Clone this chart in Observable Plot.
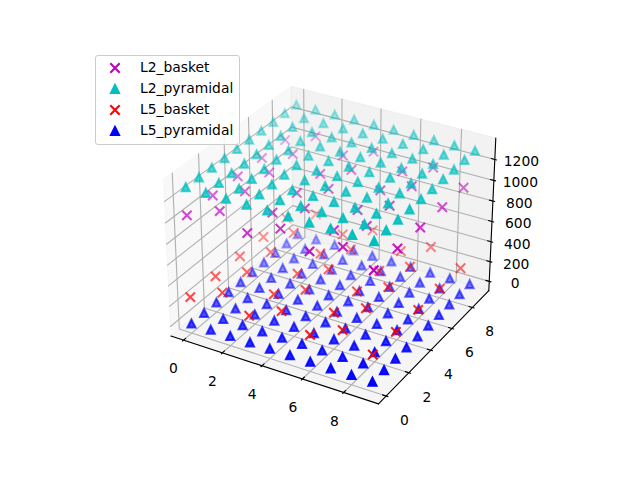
<!DOCTYPE html>
<html><head><meta charset="utf-8">
<script src="https://cdn.jsdelivr.net/npm/d3@7"></script>
<script src="https://cdn.jsdelivr.net/npm/@observablehq/plot@0.6"></script>
<style>
html,body{margin:0;padding:0;background:#fff;overflow:hidden}
#wrap{position:relative;width:640px;height:480px;font-family:"DejaVu Sans",sans-serif;overflow:hidden;}
#legend{position:absolute;left:95px;top:55px;width:143px;height:88px;border:1px solid #ccc;border-radius:3px;background:rgba(255,255,255,.8);}
#legend .row{position:absolute;left:0;height:20px;line-height:20px;font-size:13.89px;color:#000;white-space:nowrap;}
#legend svg{position:absolute;left:8px;top:0;overflow:visible;}
#legend span{position:absolute;left:44px;top:-1px;}
</style></head><body><div id="wrap"><div id="legend"></div></div>
<script>
const seriesNames = ["L2_basket","L2_pyramidal","L5_basket","L5_pyramidal"];
const seriesColors = ["#bf00bf","#00bfbf","#ff0000","#0000ff"];
const seriesMarkers = ["x","triangle","x","triangle"];
const seriesHeights = [1045.9,1307.4,261.5,0];
const xTicks = [0,2,4,6,8];
const yTicks = [0,2,4,6,8];
const zTicks = [0,200,400,600,800,1000,1200];
const pyramidalX = [0,0,0,0,0,0,0,0,0,0,1,1,1,1,1,1,1,1,1,1,2,2,2,2,2,2,2,2,2,2,3,3,3,3,3,3,3,3,3,3,4,4,4,4,4,4,4,4,4,4,5,5,5,5,5,5,5,5,5,5,6,6,6,6,6,6,6,6,6,6,7,7,7,7,7,7,7,7,7,7,8,8,8,8,8,8,8,8,8,8,9,9,9,9,9,9,9,9,9,9];
const pyramidalY = [0,1,2,3,4,5,6,7,8,9,0,1,2,3,4,5,6,7,8,9,0,1,2,3,4,5,6,7,8,9,0,1,2,3,4,5,6,7,8,9,0,1,2,3,4,5,6,7,8,9,0,1,2,3,4,5,6,7,8,9,0,1,2,3,4,5,6,7,8,9,0,1,2,3,4,5,6,7,8,9,0,1,2,3,4,5,6,7,8,9,0,1,2,3,4,5,6,7,8,9];
const basketX = [0,0,0,0,0,1,1,1,1,1,3,3,3,3,3,4,4,4,4,4,6,6,6,6,6,7,7,7,7,7,9,9,9,9,9];
const basketY = [0,2,4,6,8,1,3,5,7,9,0,2,4,6,8,1,3,5,7,9,0,2,4,6,8,1,3,5,7,9,0,2,4,6,8];

// View geometry of a default 3D axes: elevation 30, azimuth -60, distance 10.
const limX = [-0.656,9.656], limY = [-0.656,9.656], limZ = [-95.3,1402.7];
const dist = 10, elev = 30*Math.PI/180, azim = -60*Math.PI/180;
const k = 1.8294640721620434*25/24/Math.hypot(4,4,3);
const box = [4*k,4*k,3*k];
const R = box.map(b=>b/2);
const dir = [Math.cos(elev)*Math.cos(azim),Math.cos(elev)*Math.sin(azim),Math.sin(elev)];
const E = R.map((r,i)=>r+dist*dir[i]);
const cross=(a,b)=>[a[1]*b[2]-a[2]*b[1],a[2]*b[0]-a[0]*b[2],a[0]*b[1]-a[1]*b[0]];
const dot3=(a,b)=>a[0]*b[0]+a[1]*b[1]+a[2]*b[2];
const uu = cross([0,0,1],dir); const un=Math.hypot(...uu); const U=uu.map(v=>v/un);
const V = cross(dir,U);
function project(x,y,z){
  const p=[(x-limX[0])/(limX[1]-limX[0])*box[0],(y-limY[0])/(limY[1]-limY[0])*box[1],(z-limZ[0])/(limZ[1]-limZ[0])*box[2]];
  const d=p.map((v,i)=>v-E[i]);
  const depth=-dot3(d,dir);
  return {px:dot3(d,U)/depth,py:dot3(d,V)/depth,vz:-dist/depth};
}
const [x0,x1]=limX,[y0,y1]=limY,[z0,z1]=limZ;
const dx=(x1-x0)/12, dy=(y1-y0)/12;
function pts(list,id,extra={}){return list.map(p=>({...project(...p),id,...extra}));}
const panes=[
  {c:"#f2f2f2",p:[[x0,y0,z0],[x0,y1,z0],[x0,y1,z1],[x0,y0,z1],[x0,y0,z0]]},
  {c:"#e6e6e6",p:[[x0,y1,z0],[x1,y1,z0],[x1,y1,z1],[x0,y1,z1],[x0,y1,z0]]},
  {c:"#ececec",p:[[x0,y0,z0],[x1,y0,z0],[x1,y1,z0],[x0,y1,z0],[x0,y0,z0]]}
];
const paneRows=panes.flatMap((q,i)=>pts(q.p,"pane"+i,{c:q.c}));
const gridRows=[
  ...xTicks.flatMap(t=>pts([[t,y0,z0],[t,y1,z0],[t,y1,z1]],"gx"+t)),
  ...yTicks.flatMap(t=>pts([[x1,t,z0],[x0,t,z0],[x0,t,z1]],"gy"+t)),
  ...zTicks.flatMap(t=>pts([[x0,y0,t],[x0,y1,t],[x1,y1,t]],"gz"+t))
];
const axisRows=[
  ...pts([[x0,y0,z0],[x1,y0,z0]],"ax"),
  ...pts([[x1,y0,z0],[x1,y1,z0]],"ay"),
  ...pts([[x1,y1,z0],[x1,y1,z1]],"az")
];
const tickRows=[
  ...xTicks.flatMap(t=>pts([[t,y0+0.2*dy,z0],[t,y0-0.1*dy,z0]],"tx"+t)),
  ...yTicks.flatMap(t=>pts([[x1-0.2*dx,t,z0],[x1+0.1*dx,t,z0]],"ty"+t)),
  ...zTicks.flatMap(t=>pts([[x1-0.2*dx,y1,t],[x1+0.1*dx,y1,t]],"tz"+t))
];
const xLabelRows=xTicks.map(t=>({...project(t,y0-1.05*dy,z0),t}));
const yLabelRows=yTicks.map(t=>({...project(x1+1.05*dx,t,z0),t}));
const zLabelRows=zTicks.map(t=>({...project(x1+1.0*dx,y1,t),t}));
const crossMark={draw(c,size){const r=Math.sqrt(size/Math.PI);c.moveTo(-r,-r);c.lineTo(r,r);c.moveTo(-r,r);c.lineTo(r,-r);}};
const triMark={draw(c,size){const r=Math.sqrt(size/Math.PI);c.moveTo(0,-r);c.lineTo(-r,r);c.lineTo(r,r);c.closePath();}};
const symbolOf=m=>m==="x"?crossMark:triMark;
const markRadius=m=>m==="x"?3.95:4;
function layer(i){
  const isPyr=seriesMarkers[i]==="triangle";
  const xs=isPyr?pyramidalX:basketX, ys=isPyr?pyramidalY:basketY;
  const rows=xs.map((x,j)=>project(x,ys[j],seriesHeights[i]));
  const [a,b]=d3.extent(rows,d=>d.vz);
  rows.forEach(d=>d.a=1-(d.vz-a)/(b-a)*0.7);
  rows.sort((p,q)=>q.vz-p.vz);
  return Plot.dot(rows,{x:"px",y:"py",r:markRadius(seriesMarkers[i]),symbol:symbolOf(seriesMarkers[i]),
    fill:isPyr?seriesColors[i]:"none",stroke:seriesColors[i],strokeWidth:2.08,strokeLinecap:"square",
    fillOpacity:isPyr?"a":undefined,strokeOpacity:"a"});
}
const lineMark=(rows,o)=>Plot.line(rows,{x:"px",y:"py",z:"id",...o});
const labelMark=(rows,o)=>Plot.text(rows,{x:"px",y:"py",text:d=>String(d.t),fontSize:13.89,fontFamily:"DejaVu Sans",fill:"#000",...o});
const chart=Plot.plot({
  width:640,height:480,margin:0,
  x:{axis:null,domain:[-0.095,0.09],range:[142.5,512.1]},
  y:{axis:null,domain:[-0.095,0.09],range:[426.7,57.1]},
  opacity:{type:"identity"},
  style:{background:"transparent"},
  marks:[
    ...panes.map((q,i)=>lineMark(paneRows.filter(d=>d.id==="pane"+i),{fill:q.c,fillOpacity:0.5,stroke:q.c,strokeOpacity:0.5,strokeWidth:1})),
    lineMark(gridRows,{stroke:"#b0b0b0",strokeWidth:1.11}),
    lineMark(axisRows,{stroke:"#000",strokeWidth:1.11}),
    lineMark(tickRows,{stroke:"#000",strokeWidth:1.11}),
    labelMark(xLabelRows,{dx:1.5,dy:18.3}),
    labelMark(yLabelRows,{dx:-1,dy:18.5}),
    labelMark(zLabelRows,{dx:8.7,dy:-2.5}),
    layer(3),layer(2),layer(0),layer(1)
  ]
});
const wrap=document.getElementById("wrap");
wrap.insertBefore(chart,wrap.firstChild);
chart.style.position="absolute";chart.style.left="0";chart.style.top="0";
const legend=d3.select("#legend");
seriesNames.forEach((name,i)=>{
  const row=legend.append("div").attr("class","row").style("top",(1.5+i*21)+"px");
  const s=row.append("svg").attr("width",24).attr("height",20);
  const isPyr=seriesMarkers[i]==="triangle";
  const r=markRadius(seriesMarkers[i]);
  s.append("path").attr("transform","translate(11,10)")
   .attr("d",d3.symbol(symbolOf(seriesMarkers[i]),r*r*Math.PI)())
   .attr("fill",isPyr?seriesColors[i]:"none").attr("stroke",seriesColors[i]).attr("stroke-width",2.08).attr("stroke-linecap","square");
  row.append("span").text(name);
});
</script></body></html>
